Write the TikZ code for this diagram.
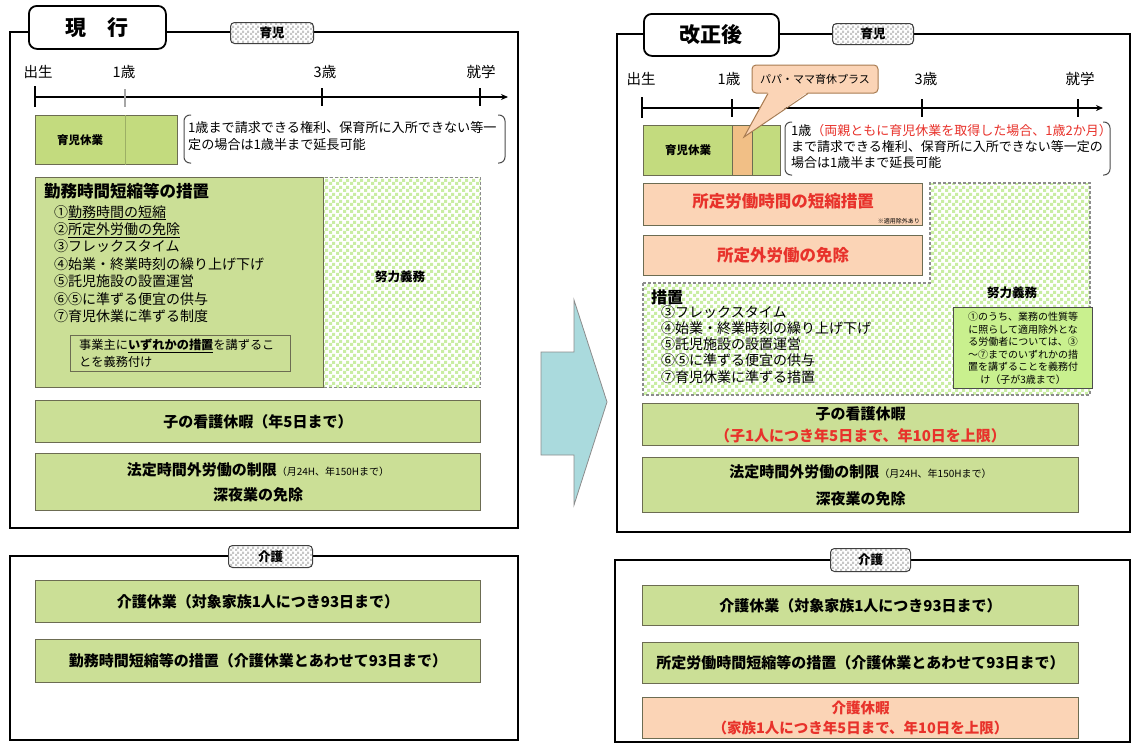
\documentclass[tikz,border=0pt]{standalone}
\usepackage{fontspec}
\setmainfont{Noto Sans CJK JP}
\XeTeXlinebreaklocale "ja"
\usetikzlibrary{patterns,patterns.meta,arrows.meta}
\definecolor{gfill}{HTML}{CBDF96}
\definecolor{gfillb}{HTML}{C3DB7E}
\definecolor{pfill}{HTML}{FBD4B6}
\definecolor{bdr}{HTML}{6C6C52}
\definecolor{rtext}{HTML}{E8322B}
\definecolor{chkc}{HTML}{C9EDA3}
\definecolor{orng}{HTML}{F1BF86}
\definecolor{arrowc}{HTML}{AADADD}
\definecolor{notec}{HTML}{C9F08E}
\definecolor{cbdr}{HTML}{A87C52}
\tikzdeclarepattern{
  name=bigcheck, type=uncolored,
  bounding box={(0pt,0pt) and (7pt,7pt)},
  tile size={(7pt,7pt)},
  code={\fill (0pt,0pt) rectangle (3.5pt,3.5pt); \fill (3.5pt,3.5pt) rectangle (7pt,7pt);}
}
\tikzdeclarepattern{
  name=smallcheck, type=uncolored,
  bounding box={(0pt,0pt) and (5pt,5pt)},
  tile size={(5pt,5pt)},
  code={\fill (0pt,0pt) rectangle (2.5pt,2.5pt); \fill (2.5pt,2.5pt) rectangle (5pt,5pt);}
}
\begin{document}
\begin{tikzpicture}[x=1pt,y=-1pt,
  frame/.style={draw=black,line width=2.4pt},
  titlebox/.style={draw=black,line width=1.8pt,rounded corners=8pt,fill=white,anchor=north west,inner sep=0pt,font=\fontsize{21}{24}\selectfont\bfseries},
  tabbox/.style={draw=black!75,line width=1pt,rounded corners=4pt,preaction={fill=white},pattern=smallcheck,pattern color=black!22,anchor=north west,inner sep=0pt,font=\fontsize{12.5}{14}\selectfont\bfseries},
  gbox/.style={draw=bdr,line width=1pt,fill=gfill,anchor=north west,inner sep=0pt,align=center},
  pbox/.style={gbox,fill=pfill},
  lbl/.style={font=\fontsize{14.5}{16}\selectfont},
  axisl/.style={line width=1.6pt,-{Stealth[length=7pt,width=6pt]}},
  tickl/.style={line width=2pt},
  brk/.style={line width=1pt,draw=black!70,rounded corners=6pt},
  chk/.style={draw=black!45,dash pattern=on 3pt off 2pt,line width=1.3pt,pattern=bigcheck,pattern color=chkc},
  btxt/.style={font=\fontsize{15}{22}\selectfont\bfseries},
]
\useasboundingbox (0,0) rectangle (1135,745);
\fill[white] (0,0) rectangle (1135,745);

% ================= LEFT PANEL =================
\draw[frame] (10,32) rectangle (518,528);
\node[titlebox,minimum width=137pt,minimum height=43pt] (ltitle) at (28,5) {現　行};
\node[tabbox,minimum width=83pt,minimum height=21pt] (ltab) at (230,22) {育児};

% timeline
\coordinate (la0) at (35,97);
\coordinate (la1) at (508,97);
\coordinate (lk0) at (35,97);
\coordinate (lk1) at (125,97);
\coordinate (lk3) at (322,97);
\coordinate (lk6) at (480,97);
\draw[axisl] (la0) -- (la1);
\draw[tickl] ([yshift=11pt]lk0) -- ([yshift=-10pt]lk0);
\draw[line width=1.2pt,black!35] ([yshift=8pt]lk1) -- ([yshift=-10pt]lk1);
\draw[tickl] ([yshift=9pt]lk3) -- ([yshift=-9pt]lk3);
\draw[tickl] ([yshift=9pt]lk6) -- ([yshift=-9pt]lk6);
\node[lbl] (lb0) at (38,72) {出生};
\node[lbl] (lb1) at (124,72) {1歳};
\node[lbl] (lb3) at (325,72) {3歳};
\node[lbl] (lb6) at (481,72) {就学};

% childcare leave
\node[gbox,fill=gfillb,minimum width=142pt,minimum height=49pt] (lleave) at (35,115) {};
\draw[gfillb!80!black,line width=0.5pt] (lleave.north west -| lk1) -- (lleave.south west -| lk1);
\node[font=\fontsize{11.5}{13}\selectfont\bfseries] (lleavet) at (80,140) {育児休業};
\coordinate (lbrA) at (184,115);
\coordinate (lbrB) at (505,163);
\draw[brk] ([xshift=7pt]lbrA) -- (lbrA) -- (lbrA |- lbrB) -- ([xshift=7pt]lbrA |- lbrB);
\draw[brk] ([xshift=-7pt]lbrA -| lbrB) -- (lbrA -| lbrB) -- (lbrB) -- ([xshift=-7pt]lbrB);
\node[anchor=north west,align=left,inner sep=0pt,font=\fontsize{13.1}{17}\selectfont] (lbrt) at (188,121) {1歳まで請求できる権利、保育所に入所できない等一\\定の場合は1歳半まで延長可能};

% measures
\node[chk,anchor=north west,minimum width=157pt,minimum height=210pt,inner sep=0pt] (leff) at (323,177) {};
\node[font=\fontsize{12.5}{14}\selectfont\bfseries] (lefft) at (400,277) {努力義務};
\node[gbox,minimum width=288pt,minimum height=210pt] (lmeas) at (35,177) {};
\node[anchor=north west,inner sep=0pt,font=\fontsize{16.5}{18}\selectfont\bfseries] (lmeast) at (44,183) {勤務時間短縮等の措置};
\node[anchor=north west,inner sep=0pt,align=left,font=\fontsize{14}{17.4}\selectfont] (llist) at (54,205) {①\underline{勤務時間の短縮}\\②\underline{所定外労働の免除}\\③フレックスタイム\\④始業・終業時刻の繰り上げ下げ\\⑤託児施設の設置運営\\⑥⑤に準ずる便宜の供与\\⑦育児休業に準ずる制度};
\node[draw=bdr,line width=1pt,anchor=north west,inner sep=0pt,minimum width=220pt,minimum height=36pt] (lduty) at (70,335) {};
\node[anchor=north west,inner sep=0pt,align=left,font=\fontsize{12.2}{17}\selectfont] (ldutyt) at (79,339) {事業主に\textbf{\underline{いずれかの措置}}を講ずるこ\\とを義務付け};

% nursing leave
\node[gbox,minimum width=445pt,minimum height=42pt,btxt] (lnurse) at (35,400) {子の看護休暇（年5日まで）};
\node[gbox,minimum width=445pt,minimum height=57pt,font=\fontsize{15}{25}\selectfont\bfseries] (lovt) at (35,453) {法定時間外労働の制限{\fontsize{10}{12}\selectfont\mdseries （月24H、年150Hまで）}\\深夜業の免除};

% kaigo left
\draw[frame] (10,556) rectangle (518,740);
\node[tabbox,minimum width=84pt,minimum height=22pt] (lktab) at (228,545) {介護};
\node[gbox,minimum width=445pt,minimum height=42pt,btxt] (lk1b) at (35,580) {介護休業（対象家族1人につき93日まで）};
\node[gbox,minimum width=445pt,minimum height=43pt,btxt] (lk2b) at (35,639) {勤務時間短縮等の措置（介護休業とあわせて93日まで）};

% ================= ARROW =================
\fill[arrowc,draw=black!45,line width=0.8pt] (541,352) -- (574,352) -- (574,300) -- (607,402) -- (574,505) -- (574,455) -- (541,455) -- cycle;

% ================= RIGHT PANEL =================
\draw[frame] (617,34) rectangle (1130,532);
\node[titlebox,minimum width=135pt,minimum height=42pt] (rtitle) at (643,13) {改正後};
\node[tabbox,minimum width=81pt,minimum height=21pt] (rtab) at (832,23) {育児};

\coordinate (ra0) at (642,108);
\coordinate (ra1) at (1103,108);
\coordinate (rk0) at (642,108);
\coordinate (rk1) at (732,108);
\coordinate (rk3) at (922,108);
\coordinate (rk6) at (1078,108);
\draw[axisl] (ra0) -- (ra1);
\draw[tickl] ([yshift=11pt]rk0) -- ([yshift=-10pt]rk0);
\draw[tickl] ([yshift=9pt]rk1) -- ([yshift=-9pt]rk1);
\draw[tickl] ([yshift=9pt]rk3) -- ([yshift=-9pt]rk3);
\draw[tickl] ([yshift=9pt]rk6) -- ([yshift=-9pt]rk6);
\node[lbl] (rb0) at (641,79) {出生};
\node[lbl] (rb1) at (729,79) {1歳};
\node[lbl] (rb3) at (926,79) {3歳};
\node[lbl] (rb6) at (1080,79) {就学};

% childcare leave right
\node[gbox,fill=gfillb,minimum width=137pt,minimum height=50pt] (rleave) at (643,125) {};
\node[draw=bdr,line width=1pt,fill=orng,anchor=north west,inner sep=0pt,minimum width=20pt,minimum height=50pt] (rplus) at (732,125) {};
\node[font=\fontsize{11.5}{13}\selectfont\bfseries] (rleavet) at (688,150) {育児休業};

% callout
\node[draw=cbdr,line width=1pt,fill=pfill,rounded corners=4pt,minimum width=126pt,minimum height=28pt,inner sep=0pt,font=\fontsize{11}{13}\selectfont] (papa) at (815,79) {パパ・ママ育休プラス};
\coordinate (ptip) at (744,137);
\fill[pfill] ([xshift=-47pt,yshift=1.5pt]papa.south) -- (ptip) -- ([xshift=-7pt,yshift=1.5pt]papa.south) -- cycle;
\draw[cbdr,line width=1pt] ([xshift=-47pt]papa.south) -- (ptip) -- ([xshift=-7pt]papa.south);

\coordinate (rbrA) at (785,122);
\coordinate (rbrB) at (1110,175);
\draw[brk] ([xshift=7pt]rbrA) -- (rbrA) -- (rbrA |- rbrB) -- ([xshift=7pt]rbrA |- rbrB);
\draw[brk] ([xshift=-7pt]rbrA -| rbrB) -- (rbrA -| rbrB) -- (rbrB) -- ([xshift=-7pt]rbrB);
\node[anchor=north west,align=left,inner sep=0pt,font=\fontsize{13}{16}\selectfont] (rbrt) at (791,124) {1歳{\color{rtext}（両親ともに育児休業を取得した場合、1歳2か月）}\\まで請求できる権利、保育所に入所できない等一定の\\場合は1歳半まで延長可能};

% dashed L region
\path[chk] (643,283) -- (930,283) -- (930,183) -- (1090,183) -- (1090,395) -- (643,395) -- cycle;

\node[pbox,minimum width=279pt,minimum height=42pt] (rshort) at (643,183) {};
\node[font=\fontsize{16.5}{18}\selectfont\bfseries,text=rtext] (rshortt) at ([yshift=3pt]rshort.center) {所定労働時間の短縮措置};
\node[anchor=south east,inner sep=1pt,font=\fontsize{6}{7}\selectfont] (rshortn) at ([xshift=-2pt,yshift=1pt]rshort.south east) {※適用除外あり};
\node[pbox,minimum width=279pt,minimum height=40pt,font=\fontsize{16.5}{18}\selectfont\bfseries,text=rtext] (rexempt) at (643,235) {所定外労働の免除};

\node[anchor=west,inner sep=0pt,font=\fontsize{16}{18}\selectfont\bfseries] (rmeast) at (651,297) {措置};
\node[anchor=north west,inner sep=0pt,align=left,font=\fontsize{14}{16.3}\selectfont] (rlist) at (661,305) {③フレックスタイム\\④始業・終業時刻の繰り上げ下げ\\⑤託児施設の設置運営\\⑥⑤に準ずる便宜の供与\\⑦育児休業に準ずる措置};
\node[font=\fontsize{12.5}{14}\selectfont\bfseries] (refft) at (1012,293) {努力義務};
\node[draw=black!70,line width=1.3pt,fill=notec,anchor=north west,minimum width=139pt,minimum height=81pt,inner sep=0pt,align=center,font=\fontsize{10}{12.6}\selectfont] (rnote) at (953,307) {①のうち、業務の性質等\\に照らして適用除外とな\\る労働者については、③\\～⑦までのいずれかの措\\置を講ずることを義務付\\け（子が3歳まで）};

\node[gbox,minimum width=436pt,minimum height=42pt,font=\fontsize{15}{22}\selectfont\bfseries] (rnurse) at (642,403) {子の看護休暇\\{\color{rtext}（子1人につき年5日まで、年10日を上限）}};
\node[gbox,minimum width=436pt,minimum height=55pt,font=\fontsize{15}{27}\selectfont\bfseries] (rovt) at (642,457) {法定時間外労働の制限{\fontsize{10}{12}\selectfont\mdseries （月24H、年150Hまで）}\\深夜業の免除};

% kaigo right
\draw[frame] (615,560) rectangle (1130,742);
\node[tabbox,minimum width=80pt,minimum height=23pt] (rktab) at (830,548) {介護};
\node[gbox,minimum width=436pt,minimum height=40pt,btxt] (rk1b) at (642,585) {介護休業（対象家族1人につき93日まで）};
\node[gbox,minimum width=436pt,minimum height=41pt,btxt] (rk2b) at (642,642) {所定労働時間短縮等の措置（介護休業とあわせて93日まで）};
\node[pbox,minimum width=436pt,minimum height=41pt,font=\fontsize{14.5}{20}\selectfont\bfseries,text=rtext] (rk3b) at (642,697) {介護休暇\\（家族1人につき年5日まで、年10日を上限）};
\end{tikzpicture}
\end{document}
